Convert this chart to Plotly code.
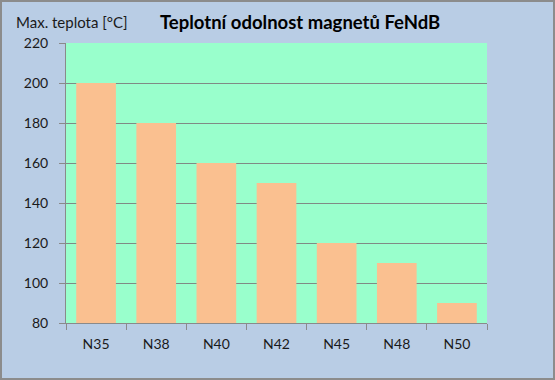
import plotly.graph_objects as go

categories = ["N35", "N38", "N40", "N42", "N45", "N48", "N50"]
max_temp = [200, 180, 160, 150, 120, 110, 90]
y_ticks = [80, 100, 120, 140, 160, 180, 200, 220]

W, H = 555, 380
L, R, T, B = 66, 68, 43, 57
pw, ph = W - L - R, H - T - B

def px_x(p):
    return (p - L) / pw

def px_y(p):
    return (H - B - p) / ph

fig = go.Figure(go.Bar(
    x=categories, y=max_temp,
    marker=dict(color="#FAC090", line=dict(width=0)),
    width=0.66,
))

fig.update_layout(
    width=W, height=H,
    margin=dict(l=L, r=R, t=T, b=B),
    paper_bgcolor="#B9CDE5",
    plot_bgcolor="#99FFCC",
    font=dict(family="Lato, Noto Sans, sans-serif", size=14, color="#1a1a1a"),
    showlegend=False,
    bargap=0.34,
    xaxis=dict(
        showline=True, linecolor="#8a8a8a", linewidth=1,
        ticks="outside", ticklen=6, tickcolor="#8a8a8a",
        tickson="boundaries", showgrid=False,
        tickfont=dict(size=14), ticklabelstandoff=8,
    ),
    yaxis=dict(
        range=[80, 220], tickvals=y_ticks,
        showline=True, linecolor="#8a8a8a", linewidth=1,
        ticks="outside", ticklen=6, tickcolor="#8a8a8a",
        showgrid=True, gridcolor="#808a85", gridwidth=1,
        tickfont=dict(size=14), zeroline=False, ticklabelstandoff=8,
    ),
    annotations=[
        dict(text="<b>Teplotní odolnost magnetů FeNdB</b>", x=px_x(300), y=px_y(22),
             xref="paper", yref="paper", showarrow=False, xanchor="center", yanchor="middle",
             font=dict(size=18.5, color="#000000")),
        dict(text="Max. teplota [°C]", x=px_x(14), y=px_y(22),
             xref="paper", yref="paper", showarrow=False, xanchor="left", yanchor="middle",
             font=dict(size=15, color="#1a1a1a")),
    ],
    shapes=[
        dict(type="rect", xref="paper", yref="paper",
             x0=px_x(1), x1=px_x(W - 1), y0=px_y(H - 1), y1=px_y(1),
             line=dict(color="#8c8c8c", width=2), fillcolor="rgba(0,0,0,0)", layer="above"),
    ],
)

fig.write_html(
    "out.html",
    config={"displayModeBar": False},
    post_script="document.body.style.margin='0';document.body.style.overflow='hidden';",
)
